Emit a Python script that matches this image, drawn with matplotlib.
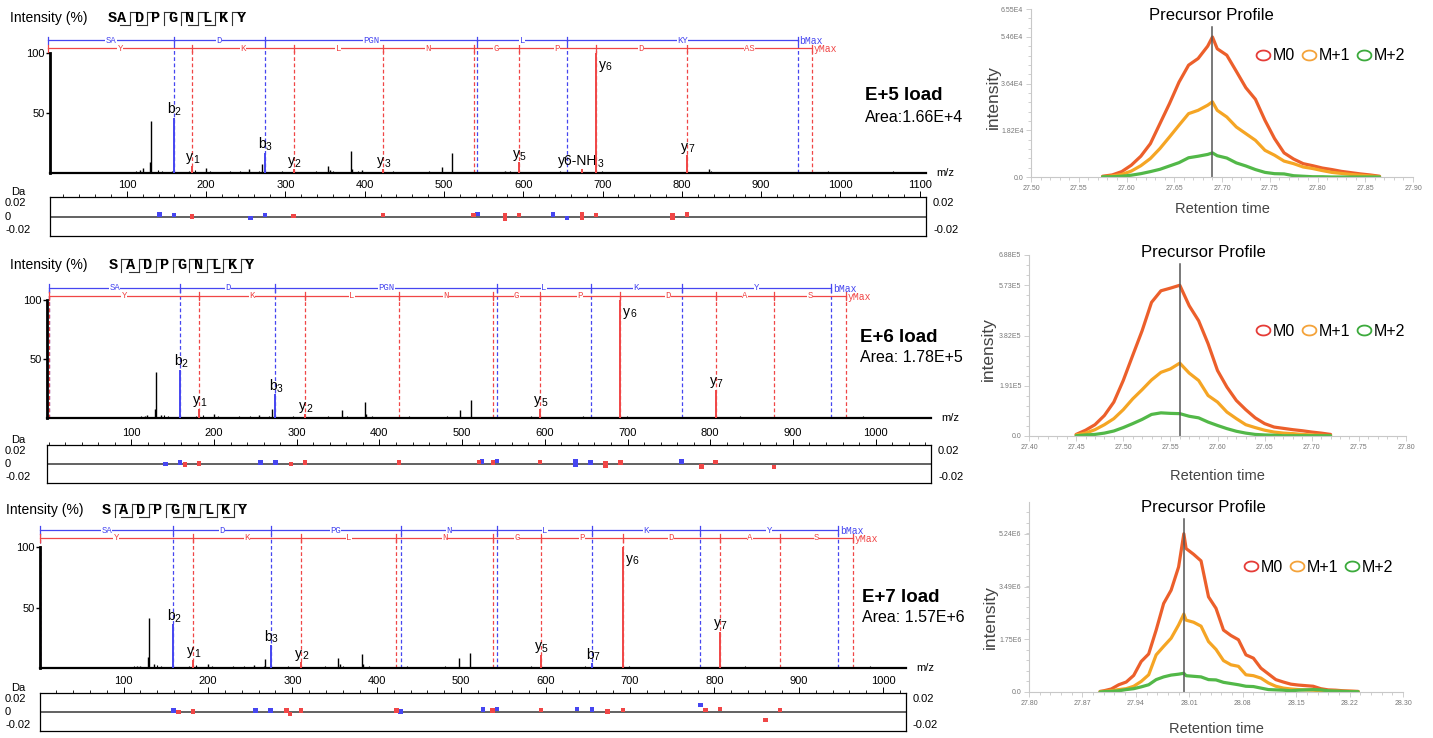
import numpy as np
import matplotlib
matplotlib.use("Agg")
import matplotlib.pyplot as plt
import matplotlib.transforms as mtransforms
from matplotlib.lines import Line2D
from matplotlib.path import Path
from matplotlib.ticker import FixedLocator, MultipleLocator

plt.rcParams['font.family'] = ['Liberation Sans', 'DejaVu Sans']

W, H = 1433, 738

# ---------------- data ----------------
SEQUENCE = "SADPGNLKY"

# small background peaks (m/z, relative intensity %), shared by the three spectra
NOISE_MZ = [112.1, 118.6, 124.1, 139.1, 141.1, 144.1, 152.1, 157.1, 165.1, 171.1,
            178.1, 186.1, 192.1, 197.1, 205.1, 211.1, 217.1, 224.1, 230.1, 238.1,
            243.1, 249.1, 256.1, 262.1, 266.1, 281.1, 288.1, 295.1, 301.1, 318.2,
            326.2, 331.2, 338.2, 344.2, 349.2, 360.2, 366.2, 371.2, 378.2, 391.2,
            397.2, 405.2, 412.2, 418.2, 430.2, 436.2, 442.2, 449.2, 456.2, 462.2,
            469.2, 475.2, 481.2, 488.2, 493.2, 503.2, 517.3, 522.3, 529.3, 547.3,
            553.3, 560.3, 566.3, 572.3, 583.3, 589.3, 603.3, 610.3, 618.3, 624.3,
            632.3, 646.3, 663.3, 681.3, 699.4, 706.4, 714.4, 722.4, 731.4, 739.4,
            748.4, 757.4, 765.4, 774.4, 780.4, 796.4, 813.4, 821.4, 829.4, 836.4,
            845.4, 853.4, 861.4, 869.4, 884.4, 892.4, 900.4, 909.5, 917.5, 926.5,
            935.5, 953.5, 968.5, 984.5, 1001.5, 1017.5, 1033.5, 1049.5, 1066.5, 1082.5, 1097.5]
NOISE_INT = [1.5, 0.8, 1.2, 2.4, 1.0, 1.6, 0.9, 1.3, 0.7, 1.1,
             1.4, 2.2, 0.8, 1.0, 1.7, 0.6, 1.1, 0.9, 1.3, 0.7,
             1.5, 0.8, 1.2, 0.9, 1.4, 1.0, 0.7, 1.6, 1.2, 0.9,
             1.1, 0.6, 1.3, 0.8, 1.0, 1.5, 1.2, 0.7, 1.1, 1.4,
             0.9, 1.2, 0.6, 1.0, 0.8, 1.3, 0.7, 1.1, 0.9, 1.2,
             0.6, 1.0, 1.4, 0.8, 1.1, 0.9, 0.7, 1.2, 0.8, 1.0,
             0.9, 0.6, 1.1, 0.8, 1.3, 0.7, 1.0, 0.9, 0.6, 1.2,
             0.8, 1.4, 0.7, 1.1, 1.3, 0.8, 1.0, 0.6, 0.9, 1.2,
             0.7, 1.0, 0.8, 0.6, 1.1, 0.9, 0.7, 1.2, 0.8, 2.0,
             0.6, 0.9, 1.1, 0.7, 0.8, 1.0, 0.6, 0.9, 0.7, 1.1,
             0.8, 0.6, 0.9, 1.5, 0.7, 0.8, 0.6, 0.9, 1.6, 0.7, 0.8]

# unassigned peaks per spectrum
R1_PEAK_MZ = [116.1, 120.1, 129.1, 130.1, 200.1, 254.1, 270.1, 354.2, 356.2, 382.2, 384.2, 396.2, 497.2, 510.2, 577.3, 834.4]
R1_PEAK_INT = [2.5, 4.5, 9.0, 43.0, 4.0, 3.0, 7.5, 5.5, 2.5, 18.0, 3.0, 2.5, 5.0, 17.0, 2.0, 3.5]
R2_PEAK_MZ = [116.1, 119.1, 129.1, 130.1, 136.1, 200.1, 254.1, 270.1, 354.2, 382.2, 384.2, 497.2, 510.2]
R2_PEAK_INT = [2.0, 2.5, 8.0, 39.0, 2.5, 3.0, 2.5, 8.0, 7.0, 13.5, 3.0, 7.0, 15.0]
R3_PEAK_MZ = [116.1, 119.1, 129.1, 130.1, 136.1, 186.1, 200.1, 254.1, 268.1, 354.2, 356.2, 382.2, 384.2, 497.2, 510.2]
R3_PEAK_INT = [2.0, 2.0, 9.0, 41.0, 3.5, 2.0, 3.0, 2.5, 7.5, 8.5, 3.0, 11.5, 3.0, 8.0, 12.0]

# assigned fragment ions
R1_ION = ["b2", "b3", "y1", "y2", "y3", "y5", "y6", "y7", "y6-NH3"]
R1_ION_MZ = [159.08, 274.10, 182.08, 310.18, 423.26, 594.33, 691.38, 806.41, 674.35]
R1_ION_INT = [46, 17, 6, 3, 3, 9, 100, 15, 3]
R2_ION = ["b2", "b3", "y1", "y2", "y5", "y6", "y7"]
R2_ION_MZ = [159.08, 274.10, 182.08, 310.18, 594.33, 691.38, 806.41]
R2_ION_INT = [41, 20, 8, 3, 8, 100, 24]
R3_ION = ["b2", "b3", "y1", "y2", "y5", "b7", "y6", "y7"]
R3_ION_MZ = [159.08, 274.10, 182.08, 310.18, 594.33, 655.31, 691.38, 806.41]
R3_ION_INT = [36, 19, 7, 5, 11, 4, 100, 30]

# fragment ladders (boundaries in m/z, residue labels between them)
R1_B_LADDER = [1.0, 159.08, 274.10, 542.22, 655.31, 946.47]
R1_B_LABELS = ["SA", "D", "PGN", "L", "KY"]
R1_Y_LADDER = [1.0, 182.08, 310.18, 423.26, 537.30, 594.33, 691.38, 806.41, 964.48]
R1_Y_LABELS = ["Y", "K", "L", "N", "G", "P", "D", "AS"]
R2_B_LADDER = [1.0, 159.08, 274.10, 542.22, 655.31, 765.4, 946.47]
R2_B_LABELS = ["SA", "D", "PGN", "L", "K", "Y"]
R2_Y_LADDER = [1.0, 182.08, 310.18, 423.26, 537.30, 594.33, 691.38, 806.41, 877.44, 964.48]
R2_Y_LABELS = ["Y", "K", "L", "N", "G", "P", "D", "A", "S"]
R3_B_LADDER = [1.0, 159.08, 274.10, 428.18, 542.22, 655.31, 783.40, 946.47]
R3_B_LABELS = ["SA", "D", "PG", "N", "L", "K", "Y"]
R3_Y_LADDER = [1.0, 182.08, 310.18, 423.26, 537.30, 594.33, 691.38, 806.41, 877.44, 964.48]
R3_Y_LABELS = ["Y", "K", "L", "N", "G", "P", "D", "A", "S"]

# cleavage marks in the sequence header (gap k is between residue k and k+1)
R1_B_GAPS = [2, 3, 6, 7]
R1_Y_GAPS = [2, 3, 4, 5, 6, 7, 8]
R2_B_GAPS = [2, 3, 6, 7, 8]
R2_Y_GAPS = [1, 2, 3, 4, 5, 6, 7, 8]
R3_B_GAPS = [2, 3, 5, 6, 7, 8]
R3_Y_GAPS = [1, 2, 3, 4, 5, 6, 7, 8]

# mass errors (Da)
R1_ERR_MZ = [141.1, 159.1, 256.1, 274.1, 542.2, 637.3, 655.3,
             182.1, 310.2, 423.3, 537.3, 577.3, 577.3, 594.3, 674.3, 674.3, 691.4, 788.4, 788.4, 806.4]
R1_ERR_DA = [0.003, 0.002, -0.002, 0.002, 0.004, 0.003, -0.002,
             0.0, 0.001, 0.002, 0.002, 0.002, -0.004, 0.002, 0.003, -0.002, 0.002, 0.002, -0.002, 0.003]
R1_ERR_ION = list("bbbbbbb" + "yyyyyyyyyyyyy")
R2_ERR_MZ = [141.1, 159.1, 256.1, 274.1, 524.2, 542.2, 637.3, 637.3, 655.3, 765.4,
             165.1, 182.1, 293.2, 310.2, 423.3, 520.3, 537.3, 594.3, 673.4, 673.4, 691.4, 789.4, 806.4, 877.4]
R2_ERR_DA = [0.0, 0.002, 0.002, 0.002, 0.004, 0.005, 0.005, -0.001, 0.002, 0.004,
             -0.001, 0.001, 0.0, 0.002, 0.002, 0.003, 0.002, 0.003, 0.001, -0.002, 0.002, -0.004, 0.003, -0.005]
R2_ERR_ION = list("bbbbbbbbbb" + "yyyyyyyyyyyyyy")
R3_ERR_MZ = [159.1, 256.1, 274.1, 428.2, 526.2, 542.2, 637.3, 655.3, 783.4,
             165.1, 182.1, 293.2, 297.2, 310.2, 423.3, 537.3, 594.3, 673.4, 691.4, 789.4, 806.4, 860.6, 877.4]
R3_ERR_DA = [0.002, 0.002, 0.002, 0.001, 0.004, 0.005, 0.005, 0.004, 0.011,
             0.0, 0.001, 0.002, -0.003, 0.002, 0.002, 0.002, 0.003, 0.001, 0.003, 0.003, 0.005, -0.012, 0.003]
R3_ERR_ION = list("bbbbbbbbb" + "yyyyyyyyyyyyyy")

LOAD_TITLES = ["E+5 load", "E+6 load", "E+7 load"]
LOAD_AREAS = ["Area:1.66E+4", "Area: 1.78E+5", "Area: 1.57E+6"]

# precursor profiles (retention time, intensity in units of 10^exp)
R1_RT = [27.575, 27.585, 27.595, 27.605, 27.615, 27.625, 27.635, 27.645, 27.655, 27.665, 27.675,
         27.685, 27.690, 27.695, 27.705, 27.715, 27.725, 27.735, 27.745, 27.755, 27.765, 27.775,
         27.785, 27.795, 27.805, 27.815, 27.825, 27.835, 27.845, 27.855, 27.865]
R1_M0 = [0.03, 0.08, 0.21, 0.46, 0.81, 1.30, 2.08, 2.86, 3.70, 4.36, 4.62, 5.10, 5.46, 5.00, 4.75,
         4.12, 3.48, 3.03, 2.21, 1.50, 0.94, 0.70, 0.52, 0.44, 0.35, 0.29, 0.22, 0.17, 0.12, 0.08, 0.03]
R1_M1 = [0.01, 0.04, 0.10, 0.23, 0.44, 0.72, 1.11, 1.56, 2.02, 2.47, 2.60, 2.80, 2.93, 2.60, 2.34,
         1.95, 1.69, 1.43, 1.04, 0.85, 0.62, 0.52, 0.39, 0.33, 0.25, 0.18, 0.14, 0.10, 0.07, 0.04, 0.01]
R1_M2 = [0.01, 0.01, 0.03, 0.07, 0.13, 0.21, 0.30, 0.43, 0.56, 0.75, 0.81, 0.88, 0.94, 0.83, 0.74,
         0.55, 0.43, 0.29, 0.18, 0.13, 0.12, 0.05, 0.03, 0.01, 0.01, 0.0, 0.0, 0.0, 0.0, 0.0, 0.0]
R2_RT = [27.45, 27.46, 27.47, 27.48, 27.49, 27.50, 27.51, 27.52, 27.53, 27.54, 27.55, 27.56, 27.57, 27.58,
         27.59, 27.60, 27.61, 27.62, 27.63, 27.64, 27.65, 27.66, 27.67, 27.68, 27.69, 27.70, 27.71, 27.72]
R2_M0 = [0.06, 0.22, 0.43, 0.78, 1.29, 2.11, 3.06, 4.00, 5.08, 5.52, 5.62, 5.73, 4.95, 4.38,
         3.51, 2.49, 1.86, 1.35, 1.00, 0.69, 0.47, 0.34, 0.29, 0.24, 0.20, 0.15, 0.11, 0.06]
R2_M1 = [0.04, 0.11, 0.24, 0.43, 0.66, 1.00, 1.41, 1.76, 2.13, 2.42, 2.55, 2.77, 2.39, 2.11,
         1.54, 1.29, 0.91, 0.66, 0.43, 0.32, 0.22, 0.15, 0.11, 0.09, 0.06, 0.04, 0.03, 0.01]
R2_M2 = [0.01, 0.04, 0.06, 0.11, 0.19, 0.32, 0.47, 0.63, 0.82, 0.88, 0.86, 0.85, 0.75, 0.69,
         0.53, 0.40, 0.28, 0.18, 0.11, 0.06, 0.04, 0.03, 0.01, 0.01, 0.01, 0.01, 0.01, 0.01]
R3_RT = [27.895, 27.90, 27.91, 27.92, 27.93, 27.94, 27.95, 27.96, 27.97, 27.98, 27.99, 28.00, 28.007,
         28.01, 28.02, 28.03, 28.04, 28.05, 28.06, 28.07, 28.08, 28.09, 28.10, 28.11, 28.12, 28.13,
         28.14, 28.15, 28.16, 28.17, 28.18, 28.19, 28.20, 28.21, 28.22, 28.23, 28.24]
R3_M0 = [0.02, 0.04, 0.10, 0.24, 0.33, 0.55, 1.01, 1.26, 2.05, 2.93, 3.37, 4.14, 5.24,
         4.75, 4.56, 4.34, 3.15, 2.77, 2.05, 1.87, 1.73, 1.23, 1.12, 0.79, 0.60, 0.41,
         0.33, 0.26, 0.23, 0.21, 0.19, 0.11, 0.07, 0.06, 0.04, 0.03, 0.02]
R3_M1 = [0.01, 0.02, 0.04, 0.08, 0.11, 0.19, 0.35, 0.57, 1.23, 1.51, 1.78, 2.22, 2.58,
         2.38, 2.31, 2.18, 1.67, 1.41, 1.04, 0.90, 0.85, 0.57, 0.54, 0.46, 0.30, 0.19,
         0.13, 0.10, 0.08, 0.07, 0.06, 0.04, 0.03, 0.03, 0.02, 0.02, 0.01]
R3_M2 = [0.00, 0.01, 0.02, 0.04, 0.08, 0.11, 0.17, 0.24, 0.41, 0.50, 0.56, 0.59, 0.62,
         0.54, 0.52, 0.50, 0.41, 0.40, 0.32, 0.28, 0.24, 0.19, 0.18, 0.13, 0.08, 0.07,
         0.06, 0.04, 0.06, 0.07, 0.08, 0.07, 0.04, 0.03, 0.02, 0.01, 0.01]
APEX_RT = [27.69, 27.56, 28.007]
PROFILE_EXP = [4, 5, 6]
PROFILE_YTICKS = [[0, 1.82, 3.64, 5.46, 6.55], [0, 1.91, 3.82, 5.73, 6.88], [0, 1.75, 3.49, 5.24]]
PROFILE_YTOP = [6.55, 6.88, 6.29]
R1_XTICKS = ["27.50", "27.55", "27.60", "27.65", "27.70", "27.75", "27.80", "27.85", "27.90"]
R2_XTICKS = ["27.40", "27.45", "27.50", "27.55", "27.60", "27.65", "27.70", "27.75", "27.80"]
R3_XTICKS = ["27.80", "27.87", "27.94", "28.01", "28.08", "28.15", "28.22", "28.30"]
ISOTOPES = ["M0", "M+1", "M+2"]

# ---------------- style / layout ----------------
BLUE = "#4646f0"
RED = "#f04646"
LINE_COLORS = ["#ec5f2b", "#f5a524", "#52b848"]
LEGEND_COLORS = ["#e53c37", "#f4a33a", "#3caa3c"]
MONO = ["Liberation Mono", "DejaVu Sans Mono"]

fig = plt.figure(figsize=(W / 100, H / 100), dpi=100)


def fx(px):
    return px / W


def fy(py):
    return 1 - py / H


def axes_px(left, top, right, bottom):
    return fig.add_axes([fx(left), fy(bottom), (right - left) / W, (bottom - top) / H])


SPEC_LAYOUT = [
    dict(spec=(50, 33, 926, 173), y100=53, xlim=(3, 1108), err=(197, 236), blue=110.5, red=103.9,
         head_y=18, head_x=10, seq_x=108, load=(865, 95, 117)),
    dict(spec=(47, 280, 931, 418), y100=300, xlim=(-2, 1067), err=(445, 483), blue=110.2, red=103.4,
         head_y=265, head_x=10, seq_x=109, load=(860, 338, 358)),
    dict(spec=(40, 520, 906, 668), y100=547, xlim=(1, 1027), err=(693, 731), blue=114.0, red=107.5,
         head_y=510, head_x=6, seq_x=102, load=(862, 597, 617)),
]

PROF_LAYOUT = [
    dict(box=(1031, 9, 1413, 177), xlim=(27.50, 27.90), vtop=0.89, title=(1211, 15),
         legend=(1330, 56), ylab=(993, 97), xlab=209),
    dict(box=(1029, 255, 1406, 436), xlim=(27.40, 27.80), vtop=0.95, title=(1203, 252),
         legend=(1330, 331), ylab=(988, 349), xlab=476),
    dict(box=(1029, 502, 1403, 692), xlim=(27.80, 28.30), vtop=0.91, title=(1203, 507),
         legend=(1318, 567), ylab=(990, 617), xlab=729),
]


def draw_ladder(ax, bounds, labels, level, color, end_label):
    ax.plot([bounds[0], bounds[-1]], [level, level], color=color, lw=0.9, clip_on=False, zorder=2)
    for b in bounds:
        ax.plot([b, b], [level - 3, level + 3], color=color, lw=0.9, clip_on=False, zorder=2)
        ax.plot([b, b], [0, level], color=color, lw=0.9, ls=(0, (3, 2)), zorder=1)
    for a, b, lab in zip(bounds[:-1], bounds[1:], labels):
        ax.text((a + b) / 2, level, lab, color=color, fontsize=6.5, family=MONO, ha="center",
                va="center", zorder=3, bbox=dict(facecolor="white", edgecolor="none", pad=0.2))
    ax.text(bounds[-1] + 2, level - 0.8, end_label, color=color, fontsize=7, family=MONO,
            ha="left", va="center", zorder=3)


def ion_label(ax, mz, top, ion):
    name, num = ion[:-1], ion[-1]
    if top >= 90:
        y, dx = 0.84 * top, 2
        ax.annotate(name, (mz, y), xytext=(dx, 0), textcoords="offset points", ha="left", va="bottom", fontsize=10)
        ax.annotate(num, (mz, y), xytext=(dx + 5.2, 0), textcoords="offset points", ha="left", va="bottom", fontsize=7.5)
        return
    shift = 11 if len(name) > 2 else 0.8
    ax.annotate(name, (mz, top), xytext=(shift, 1), textcoords="offset points", ha="right", va="bottom", fontsize=10)
    ax.annotate(num, (mz, top), xytext=(shift, 0.5), textcoords="offset points", ha="left", va="bottom", fontsize=7.5)


def draw_sequence(x0, yc, b_gaps, y_gaps):
    x = x0
    half = 6.5
    for i, aa in enumerate(SEQUENCE):
        fig.text(fx(x), fy(yc), aa, family=MONO, weight="bold", fontsize=11, ha="left", va="center")
        x += 9.5
        gap = i + 1
        if gap < len(SEQUENCE) and (gap in b_gaps or gap in y_gaps):
            xm = x + 3
            segs = [([xm, xm], [yc - half, yc + half])]
            if gap in b_gaps:
                segs.append(([xm - 10, xm], [yc + half, yc + half]))
            if gap in y_gaps:
                segs.append(([xm, xm + 10], [yc - half, yc - half]))
            for xs, ys in segs:
                fig.add_artist(Line2D([fx(v) for v in xs], [fy(v) for v in ys],
                                      transform=fig.transFigure, color="#333333", lw=0.8))
            x += 7.5


def draw_spectrum(lay, peak_mz, peak_int, ions, ion_mz, ion_int, b_lad, b_lab, y_lad, y_lab,
                  err_mz, err_da, err_ion, b_gaps, y_gaps, load_title, load_area):
    left, top, right, bottom = lay["spec"]
    ax = axes_px(left, top, right, bottom)
    ytop = (bottom - top) / (bottom - lay["y100"]) * 100
    ax.set_xlim(*lay["xlim"])
    ax.set_ylim(0, ytop)
    ax.patch.set_alpha(0)
    for s in ("top", "right"):
        ax.spines[s].set_visible(False)
    ax.spines["left"].set_bounds(0, 100)
    ax.spines["left"].set_linewidth(2)
    ax.spines["bottom"].set_linewidth(1.6)
    ax.set_xticks([])
    ax.set_yticks([50, 100])
    ax.tick_params(axis="y", length=3, width=1, labelsize=8, pad=1)

    ax.vlines(NOISE_MZ, 0, NOISE_INT, color="black", lw=0.8)
    ax.vlines(peak_mz, 0, peak_int, color="black", lw=1.0)
    draw_ladder(ax, b_lad, b_lab, lay["blue"], BLUE, "bMax")
    draw_ladder(ax, y_lad, y_lab, lay["red"], RED, "yMax")
    for ion, mz, inten in zip(ions, ion_mz, ion_int):
        ax.vlines(mz, 0, inten, color=BLUE if ion[0] == "b" else RED, lw=1.4, zorder=4)
        ion_label(ax, mz, inten, ion)
    ax.text(1.012, 0, "m/z", transform=ax.transAxes, fontsize=8, va="center", ha="left")

    # mass error panel
    et, eb = lay["err"]
    ex = axes_px(left, et, right, eb)
    ex.set_xlim(*lay["xlim"])
    ex.set_ylim(-0.029, 0.029)
    ex.axhline(0, color="#555555", lw=1.3)
    ex.scatter(err_mz, err_da, marker="s", s=10, linewidths=0, zorder=3,
               c=[BLUE if t == "b" else RED for t in err_ion])
    ex.xaxis.set_major_locator(FixedLocator(list(range(100, 1101, 100))))
    ex.xaxis.set_minor_locator(MultipleLocator(20))
    ex.xaxis.tick_top()
    ex.tick_params(axis="x", which="major", length=4, width=0.7, labelsize=8, pad=1)
    ex.tick_params(axis="x", which="minor", length=2, width=0.6)
    ex.set_yticks([])
    for s in ex.spines.values():
        s.set_linewidth(0.9)
    tr = mtransforms.blended_transform_factory(fig.transFigure, ex.transData)
    for v, s in [(0.02, "0.02"), (0.0, "0"), (-0.02, "-0.02")]:
        ex.text(fx(5), v, s, transform=tr, fontsize=8, va="center", ha="left")
    fig.text(fx(11), fy(et - 5), "Da", fontsize=8, va="center", ha="left")
    trr = mtransforms.blended_transform_factory(ex.transAxes, ex.transData)
    for v, s in [(0.02, "0.02"), (-0.02, "-0.02")]:
        ex.text(1.008, v, s, transform=trr, fontsize=8, va="center", ha="left")

    # header and load labels
    fig.text(fx(lay["head_x"]), fy(lay["head_y"]), "Intensity (%)", fontsize=10, va="center", ha="left")
    draw_sequence(lay["seq_x"], lay["head_y"], b_gaps, y_gaps)
    lx, ly1, ly2 = lay["load"]
    fig.text(fx(lx), fy(ly1), load_title, fontsize=13.5, weight="bold", va="center", ha="left")
    fig.text(fx(lx), fy(ly2), load_area, fontsize=11.5, va="center", ha="left")


theta = np.linspace(0, 2 * np.pi, 41)
ELLIPSE = Path(np.column_stack([1.4 * np.cos(theta), np.sin(theta)]))


def draw_profile(lay, rt, series, apex, exp, yticks, ytop, xlabels):
    left, top, right, bottom = lay["box"]
    ax = axes_px(left, top, right, bottom)
    ax.set_xlim(*lay["xlim"])
    ax.set_ylim(0, ytop)
    for ys, col in zip(series, LINE_COLORS):
        ax.plot(rt, ys, color=col, lw=2.3, solid_joinstyle="round", solid_capstyle="round")
    ax.axvline(apex, ymin=0, ymax=lay["vtop"], color="#555555", lw=1.1)
    for s in ("top", "right"):
        ax.spines[s].set_visible(False)
    for s in ("left", "bottom"):
        ax.spines[s].set_color("#c8c8c8")
        ax.spines[s].set_linewidth(0.8)
    x0, x1 = lay["xlim"]
    step = (x1 - x0) / (len(xlabels) - 1)
    ax.set_xticks([x0 + k * step for k in range(len(xlabels))], xlabels)
    ax.xaxis.set_minor_locator(MultipleLocator(step / 5))
    ax.set_yticks(yticks, ["0.0"] + [f"{v:.2f}E{exp}" for v in yticks[1:]])
    ax.yaxis.set_minor_locator(MultipleLocator(yticks[1] / 5))
    ax.tick_params(which="both", colors="#c8c8c8", labelcolor="#777777", labelsize=5, width=0.6, pad=2)
    ax.tick_params(which="major", length=3.5)
    ax.tick_params(which="minor", length=2)

    fig.text(fx(lay["title"][0]), fy(lay["title"][1]), "Precursor Profile", fontsize=12, ha="center", va="center")
    fig.text(fx((left + right) / 2), fy(lay["xlab"]), "Retention time", fontsize=10.5, color="#444444",
             ha="center", va="center")
    fig.text(fx(lay["ylab"][0]), fy(lay["ylab"][1]), "intensity", fontsize=12.5, color="#444444",
             rotation=90, ha="center", va="center")
    handles = [Line2D([], [], ls="none", marker=ELLIPSE, ms=10, mfc="none", mec=c, mew=1.3)
               for c in LEGEND_COLORS]
    ax.legend(handles, ISOTOPES, loc="center", ncol=3, frameon=False, fontsize=11.5,
              bbox_to_anchor=(fx(lay["legend"][0]), fy(lay["legend"][1])), bbox_transform=fig.transFigure,
              handletextpad=0.1, columnspacing=0.4, handlelength=1.0, borderpad=0)


draw_spectrum(SPEC_LAYOUT[0], R1_PEAK_MZ, R1_PEAK_INT, R1_ION, R1_ION_MZ, R1_ION_INT,
              R1_B_LADDER, R1_B_LABELS, R1_Y_LADDER, R1_Y_LABELS,
              R1_ERR_MZ, R1_ERR_DA, R1_ERR_ION, R1_B_GAPS, R1_Y_GAPS, LOAD_TITLES[0], LOAD_AREAS[0])
draw_spectrum(SPEC_LAYOUT[1], R2_PEAK_MZ, R2_PEAK_INT, R2_ION, R2_ION_MZ, R2_ION_INT,
              R2_B_LADDER, R2_B_LABELS, R2_Y_LADDER, R2_Y_LABELS,
              R2_ERR_MZ, R2_ERR_DA, R2_ERR_ION, R2_B_GAPS, R2_Y_GAPS, LOAD_TITLES[1], LOAD_AREAS[1])
draw_spectrum(SPEC_LAYOUT[2], R3_PEAK_MZ, R3_PEAK_INT, R3_ION, R3_ION_MZ, R3_ION_INT,
              R3_B_LADDER, R3_B_LABELS, R3_Y_LADDER, R3_Y_LABELS,
              R3_ERR_MZ, R3_ERR_DA, R3_ERR_ION, R3_B_GAPS, R3_Y_GAPS, LOAD_TITLES[2], LOAD_AREAS[2])

draw_profile(PROF_LAYOUT[0], R1_RT, [R1_M0, R1_M1, R1_M2], APEX_RT[0], PROFILE_EXP[0],
             PROFILE_YTICKS[0], PROFILE_YTOP[0], R1_XTICKS)
draw_profile(PROF_LAYOUT[1], R2_RT, [R2_M0, R2_M1, R2_M2], APEX_RT[1], PROFILE_EXP[1],
             PROFILE_YTICKS[1], PROFILE_YTOP[1], R2_XTICKS)
draw_profile(PROF_LAYOUT[2], R3_RT, [R3_M0, R3_M1, R3_M2], APEX_RT[2], PROFILE_EXP[2],
             PROFILE_YTICKS[2], PROFILE_YTOP[2], R3_XTICKS)

fig.savefig("out.png", dpi=100)
